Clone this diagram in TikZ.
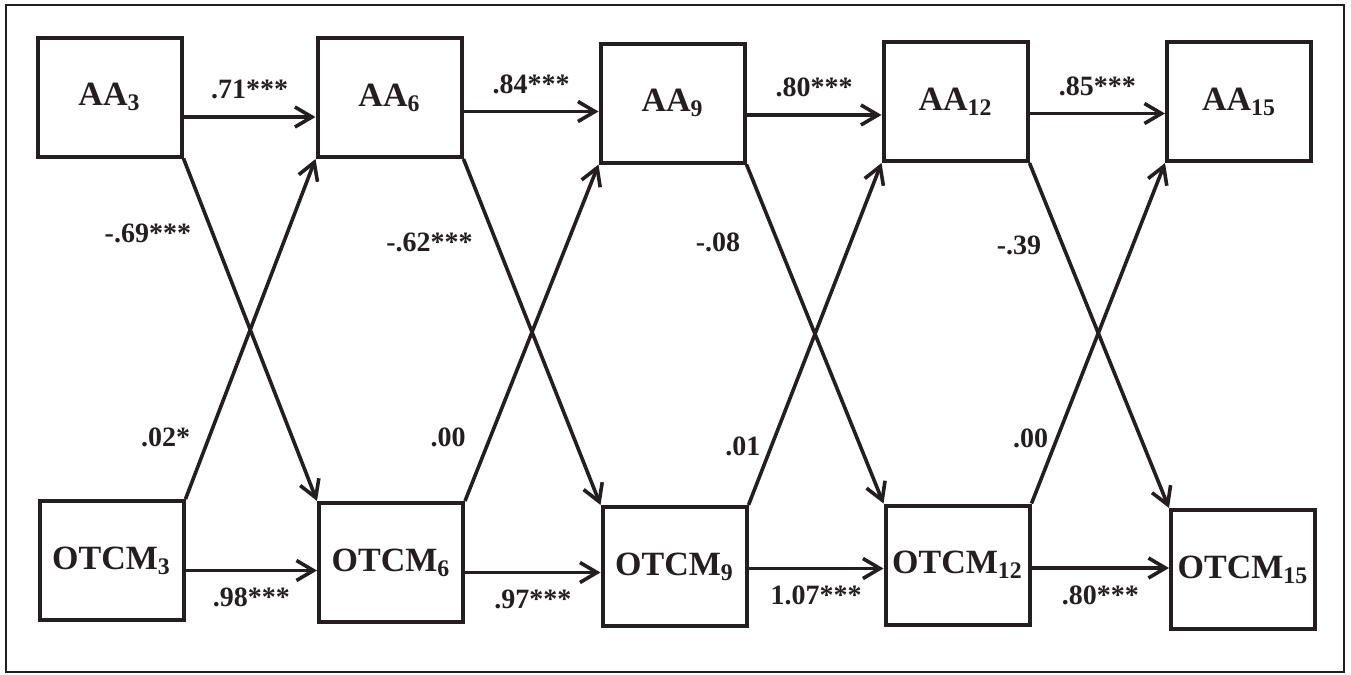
\documentclass[tikz,border=0pt]{standalone}
\usepackage{fontspec}
\setmainfont{Liberation Serif}
\usetikzlibrary{arrows.meta}

\definecolor{ink}{RGB}{35,31,32}

\begin{document}
\begin{tikzpicture}[x=0.5pt,y=-0.5pt]
  \tikzset{var/.style = {shape=rectangle,draw=ink,text=ink,line width=2pt,minimum width=72pt,minimum height=59.5pt,inner sep=0pt,font=\fontsize{17}{19}\selectfont\bfseries}}
  \tikzset{link/.style = {draw=ink,line width=1.8pt,-{Straight Barb[length=8.5pt,width=10pt]}}}
  \tikzset{coef/.style = {text=ink,inner sep=0pt,font=\fontsize{14}{16}\selectfont\bfseries}}

  \useasboundingbox (0,0) rectangle (1351,675);
  \draw[ink,line width=1pt] (6,5) rectangle (1344,672);

	\node[var] (A3) at (109.5,97) {AA\textsubscript{3}};
	\node[var] (A6) at (389.5,97.5) {AA\textsubscript{6}};
	\node[var] (A9) at (672.5,103) {AA\textsubscript{9}};
	\node[var] (A12) at (955.5,101.5) {AA\textsubscript{12}};
	\node[var] (A15) at (1239,101.5) {AA\textsubscript{15}};

	\node[var] (O3) at (111.5,560.5) {OTCM\textsubscript{3}};
	\node[var] (O6) at (391,562.5) {OTCM\textsubscript{6}};
	\node[var] (O9) at (674.5,566.5) {OTCM\textsubscript{9}};
	\node[var] (O12) at (957.5,565) {OTCM\textsubscript{12}};
	\node[var] (O15) at (1243,569.5) {OTCM\textsubscript{15}};

	% stability paths
	\foreach \from/\to/\dy/\lab in {A3/A6/-10pt/.71***,A6/A9/-7pt/.84***,A9/A12/-6pt/.80***,A12/A15/-6pt/.85***}{
	  \coordinate (s) at ([yshift=\dy]\from.east);
	  \path (s) edge[link] node[coef,above=8pt]{\lab} (s -| \to.west);
	}
	\foreach \from/\to/\dy/\lab in {O3/O6/-5pt/.98***,O6/O9/-5pt/.97***,O9/O12/-1pt/1.07***,O12/O15/-1.5pt/.80***}{
	  \coordinate (s) at ([yshift=\dy]\from.east);
	  \path (s) edge[link] node[coef,below=8pt]{\lab} (s -| \to.west);
	}

	% cross-lagged paths
	\foreach \from/\to/\p/\d/\lab in {A3/O6/.22/10pt/-.69***,A6/O9/.24/11pt/-.62***,A9/O12/.23/18pt/-.08,A12/O15/.24/10pt/-.39}
	  \path (\from.south east) edge[link] node[coef,pos=\p,left=\d]{\lab} (\to.north west);
	\foreach \from/\to/\p/\d/\lab in {O3/A6/.18/8.5pt/.02*,O6/A9/.19/11.5pt/.00,O9/A12/.17/4.5pt/.01,O12/A15/.19/3.5pt/.00}
	  \path (\from.north east) edge[link] node[coef,pos=\p,left=\d]{\lab} (\to.south west);
\end{tikzpicture}
\end{document}
